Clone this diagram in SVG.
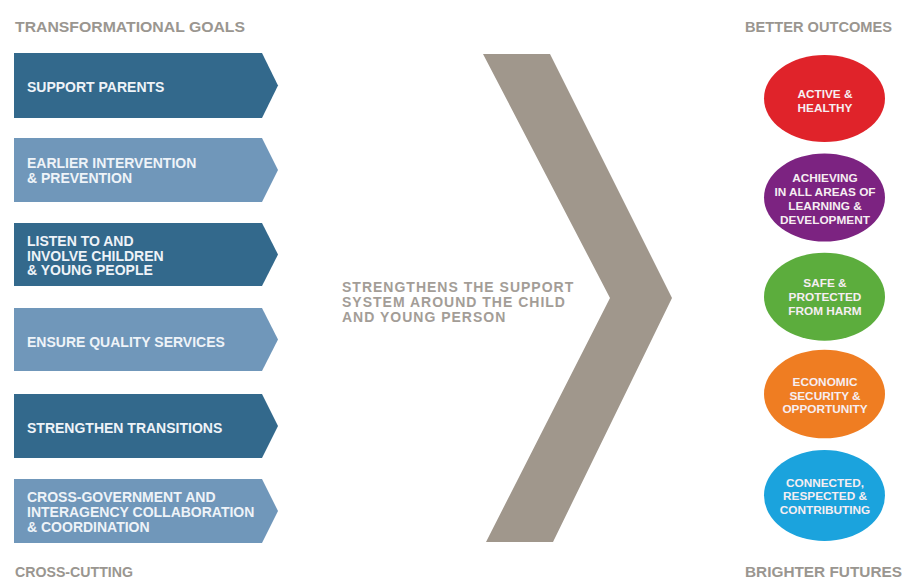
<svg xmlns="http://www.w3.org/2000/svg" width="906" height="580" viewBox="0 0 906 580">
<style>
.hdr{font-family:"Liberation Sans",Arial,sans-serif;font-weight:bold;font-size:15.5px;fill:#9a9690}
.dark{fill:#33698c}
.light{fill:#7097ba}
.at{font-family:"Liberation Sans",Arial,sans-serif;font-weight:bold;font-size:14px;fill:#eef3f8}
.mid{font-family:"Liberation Sans",Arial,sans-serif;font-weight:bold;font-size:14px;fill:#a39d97;letter-spacing:1px}
.ct{font-family:"Liberation Sans",Arial,sans-serif;font-weight:bold;font-size:11.8px;fill:#f6eef2;text-anchor:middle}
</style>
<rect width="906" height="580" fill="#ffffff"/>
<text class="hdr" x="15" y="31.5" textLength="230" lengthAdjust="spacingAndGlyphs">TRANSFORMATIONAL GOALS</text>
<text class="hdr" x="745" y="31.5" textLength="147" lengthAdjust="spacingAndGlyphs">BETTER OUTCOMES</text>
<text class="hdr" x="15" y="576.5" textLength="118" lengthAdjust="spacingAndGlyphs">CROSS-CUTTING</text>
<text class="hdr" x="745" y="576.5" textLength="157" lengthAdjust="spacingAndGlyphs">BRIGHTER FUTURES</text>

<g id="goal1">
<polygon class="dark" points="14,53 262,53 278,85.5 262,118 14,118"/>
<text class="at" x="27" y="91.5">SUPPORT PARENTS</text>
</g>
<g id="goal2">
<polygon class="light" points="14,138 262,138 278,170 262,202 14,202"/>
<text class="at" x="27" y="168">EARLIER INTERVENTION</text>
<text class="at" x="27" y="183">&amp; PREVENTION</text>
</g>
<g id="goal3">
<polygon class="dark" points="14,223 262,223 278,254.5 262,286 14,286"/>
<text class="at" x="27" y="246">LISTEN TO AND</text>
<text class="at" x="27" y="260.5">INVOLVE CHILDREN</text>
<text class="at" x="27" y="275">&amp; YOUNG PEOPLE</text>
</g>
<g id="goal4">
<polygon class="light" points="14,308 262,308 278,339.5 262,371 14,371"/>
<text class="at" x="27" y="346.5">ENSURE QUALITY SERVICES</text>
</g>
<g id="goal5">
<polygon class="dark" points="14,394 262,394 278,426 262,458 14,458"/>
<text class="at" x="27" y="432.5">STRENGTHEN TRANSITIONS</text>
</g>
<g id="goal6">
<polygon class="light" points="14,479 262,479 278,511 262,543 14,543"/>
<text class="at" x="27" y="501.5">CROSS-GOVERNMENT AND</text>
<text class="at" x="27" y="516.5">INTERAGENCY COLLABORATION</text>
<text class="at" x="27" y="531.5">&amp; COORDINATION</text>
</g>

<g id="chevron">
<polygon points="483,54 550,54 672,298 553,542 486,542 610,298" fill="#a0978c"/>
</g>
<g id="center-text">
<text class="mid" x="342" y="291.5">STRENGTHENS THE SUPPORT</text>
<text class="mid" x="342" y="306.5">SYSTEM AROUND THE CHILD</text>
<text class="mid" x="342" y="321.5">AND YOUNG PERSON</text>
</g>

<g id="outcome1">
<ellipse cx="824.5" cy="98.5" rx="60.5" ry="43.5" fill="#e0232a"/>
<text class="ct" x="825" y="98.3">ACTIVE &amp;</text>
<text class="ct" x="825" y="111.7">HEALTHY</text>
</g>
<g id="outcome2">
<ellipse cx="824.5" cy="197.5" rx="60.5" ry="44" fill="#7c2381"/>
<text class="ct" x="825" y="181.7">ACHIEVING</text>
<text class="ct" x="825" y="195.8">IN ALL AREAS OF</text>
<text class="ct" x="825" y="209.9">LEARNING &amp;</text>
<text class="ct" x="825" y="224">DEVELOPMENT</text>
</g>
<g id="outcome3">
<ellipse cx="824.5" cy="296.7" rx="60.5" ry="44" fill="#5cad3d"/>
<text class="ct" x="825" y="287.3">SAFE &amp;</text>
<text class="ct" x="825" y="301.2">PROTECTED</text>
<text class="ct" x="825" y="315">FROM HARM</text>
</g>
<g id="outcome4">
<ellipse cx="824.5" cy="394" rx="60.5" ry="44.3" fill="#ef7d22"/>
<text class="ct" x="825" y="386.3">ECONOMIC</text>
<text class="ct" x="825" y="399.7">SECURITY &amp;</text>
<text class="ct" x="825" y="413">OPPORTUNITY</text>
</g>
<g id="outcome5">
<ellipse cx="824.5" cy="495.5" rx="60.5" ry="45.5" fill="#1ba3dd"/>
<text class="ct" x="825" y="486.7">CONNECTED,</text>
<text class="ct" x="825" y="500.3">RESPECTED &amp;</text>
<text class="ct" x="825" y="514">CONTRIBUTING</text>
</g>
<g id="connectors"></g>
</svg>
